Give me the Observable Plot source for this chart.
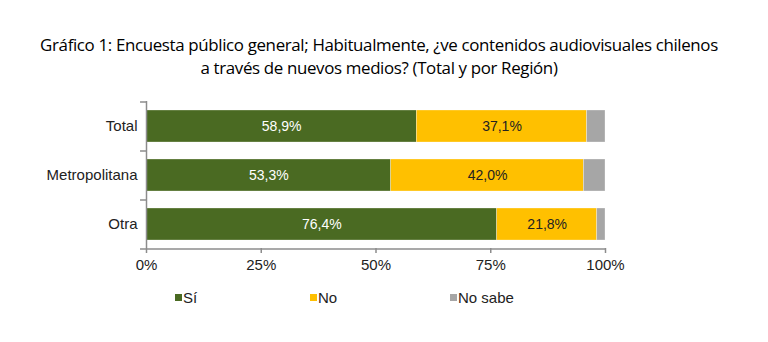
<!DOCTYPE html>
<html>
<head>
<meta charset="utf-8">
<script src="https://cdn.jsdelivr.net/npm/d3@7"></script>
<script src="https://cdn.jsdelivr.net/npm/@observablehq/plot@0.6"></script>
<style>
  html, body { margin: 0; padding: 0; background: #fff; }
  #wrap { position: relative; width: 768px; height: 342px; overflow: hidden; }
  #title { position: absolute; left: 0; top: 33px; width: 758px; text-align: center;
    font-family: "Open Sans", Lato, sans-serif; font-size: 16.9px; line-height: 23px; color: #000; letter-spacing: -0.35px; }
  #chart { position: absolute; left: 0; top: 80px; }
  #chart svg { font-family: "Liberation Sans", Arial, sans-serif !important; }
  .lg { position: absolute; top: 289px; font-family: "Liberation Sans", Arial, sans-serif; font-size: 15px; color: #222; display: flex; align-items: center; }
  .lg span.sw { display: inline-block; width: 7px; height: 7px; margin-right: 1px; }
</style>
</head>
<body>
<div id="wrap">
  <div id="title">Gráfico 1: Encuesta público general; Habitualmente, ¿ve contenidos audiovisuales chilenos<br>a través de nuevos medios? (Total y por Región)</div>
  <div id="chart"></div>
</div>
<script>
const categories = ["Total", "Metropolitana", "Otra"];
const series = ["Sí", "No", "No sabe"];
const si = [58.9, 53.3, 76.4];
const no = [37.1, 42.0, 21.8];
const noSabe = [4.0, 4.7, 1.8];
const xTicks = [0, 25, 50, 75, 100];
const colors = ["#4a6a22", "#ffc000", "#a6a6a6"];
const labelColors = ["#ffffff", "#222222", "none"];

const rows = [];
categories.forEach((c, i) => {
  rows.push({cat: c, serie: "Sí", value: si[i]});
  rows.push({cat: c, serie: "No", value: no[i]});
  rows.push({cat: c, serie: "No sabe", value: noSabe[i]});
});
const fmt = v => v.toFixed(1).replace(".", ",") + "%";

const H = 200, MT = 21, MB = 32;
const half = (H - MT - MB) / categories.length / 2;
const axisColor = "#8c8c8c";

const chart = Plot.plot({
  width: 768,
  height: H,
  marginTop: MT,
  marginBottom: MB,
  marginLeft: 146,
  marginRight: 163,
  style: {fontFamily: "'Liberation Sans', Arial, sans-serif", fontSize: "15px", color: "#222", background: "transparent"},
  x: {domain: [0, 100], label: null},
  y: {domain: categories, label: null, paddingInner: 0.35, paddingOuter: 0.175, tickSize: 0, tickPadding: 9},
  color: {domain: series, range: colors},
  marks: [
    Plot.barX(rows, Plot.stackX({x: "value", y: "cat", fill: "serie", z: "serie", stroke: "#ffffff", strokeOpacity: 0.5, strokeWidth: 0.6})),
    Plot.text(rows, Plot.stackX({x: "value", y: "cat", z: "serie",
      text: d => d.serie === "No sabe" ? "" : fmt(d.value),
      fill: d => labelColors[series.indexOf(d.serie)],
      fontSize: 14})),
    Plot.ruleX([0], {stroke: axisColor, strokeWidth: 1.5}),
    Plot.ruleY(categories, {y: d => d, x1: -1.3, x2: 0, dy: -half, stroke: axisColor, strokeWidth: 1.5, clip: false}),
    Plot.ruleY([categories[categories.length - 1]], {y: d => d, x1: -1.3, x2: 100, dy: half, stroke: axisColor, strokeWidth: 1.5, clip: false}),
    Plot.axisX({ticks: xTicks, tickFormat: d => d + "%", tickSize: 5, tickPadding: 6, stroke: axisColor, strokeWidth: 1.5, fill: "#222", fontSize: 15}),
    Plot.axisY({tickSize: 0, tickPadding: 9, fill: "#222", fontSize: 15})
  ]
});
document.getElementById("chart").appendChild(chart);

const legendX = [175, 310, 450];
series.forEach((s, i) => {
  const d = document.createElement("div");
  d.className = "lg";
  d.style.left = legendX[i] + "px";
  d.innerHTML = `<span class="sw" style="background:${colors[i]}"></span>${s}`;
  document.getElementById("wrap").appendChild(d);
});
</script>
</body>
</html>
